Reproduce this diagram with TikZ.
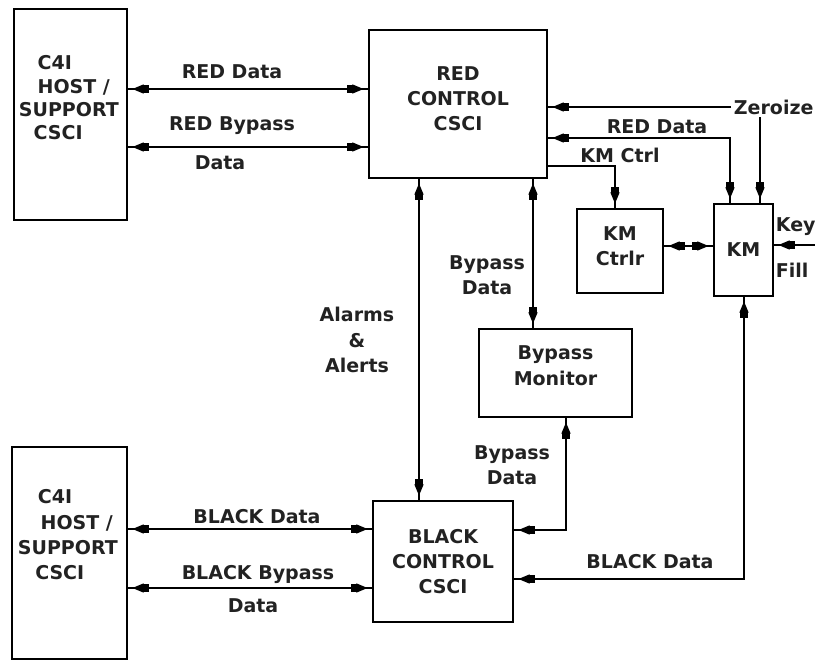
\documentclass[tikz,border=0pt]{standalone}
\usepackage{fontspec}
\setmainfont{DejaVu Sans}
\usetikzlibrary{arrows.meta,decorations.markings}
\definecolor{ink}{HTML}{222222}
\tikzset{
  box/.style={draw=black, line width=1.1pt, rectangle, inner sep=0pt, align=center},
  lbl/.style={inner sep=2pt, align=center},
  wire/.style={line width=1.1pt},
  headtri/.tip={Triangle[length=8.5pt,width=6.8pt]},
  headblk/.tip={Rectangle[length=4.5pt,width=5.8pt]},
  one/.style={wire, postaction={decorate}, decoration={markings,
      mark=at position -3.5pt with {\arrow{headtri}},
      mark=at position -11.8pt with {\arrow{headblk}}}},
  dbl/.style={wire, postaction={decorate}, decoration={markings,
      mark=at position 3.5pt with {\arrowreversed{headtri}},
      mark=at position 11.8pt with {\arrowreversed{headblk}},
      mark=at position -3.5pt with {\arrow{headtri}},
      mark=at position -11.8pt with {\arrow{headblk}}}},
}
\begin{document}
\begin{tikzpicture}[x=0.75pt,y=-0.75pt,font=\fontsize{14.25}{19}\selectfont\bfseries,text=ink]
\useasboundingbox (0,0) rectangle (815,660);
% boxes
\node[box, minimum width=0.75pt*113, minimum height=0.75pt*211] (h1) at (70.5,114.5) {};
\node[box, minimum width=0.75pt*178, minimum height=0.75pt*148, text depth=8pt] (rc) at (458,104) {RED\\CONTROL\\CSCI};
\node[box, minimum width=0.75pt*86, minimum height=0.75pt*84, text depth=7pt] (kmc) at (620,251) {KM\\Ctrlr};
\node[box, minimum width=0.75pt*59, minimum height=0.75pt*92] (km) at (743.5,250) {KM};
\node[box, minimum width=0.75pt*153, minimum height=0.75pt*88, text depth=11pt] (bm) at (555.5,373) {Bypass\\Monitor};
\node[box, minimum width=0.75pt*140, minimum height=0.75pt*121] (bc) at (443,561.5) {BLACK\\CONTROL\\CSCI};
\node[box, minimum width=0.75pt*115, minimum height=0.75pt*212] (h2) at (69.5,553) {};
% host texts
\node[lbl, anchor=west, align=left, font=\fontsize{14.25}{17.5}\selectfont\bfseries] (h1t) at (16,98)
  {\hspace*{14pt}C4I\\\hspace*{14pt}HOST /\\SUPPORT\\\hspace*{11pt}CSCI};
\node[lbl, anchor=west, align=left] (h2t) at (15,535)
  {\hspace*{15pt}C4I\\\hspace*{17pt}HOST /\\SUPPORT\\\hspace*{13pt}CSCI};
% labels
\node[lbl] (l1) at (232,72) {RED Data};
\node[lbl] (l2) at (232,126) {RED Bypass};
\node[lbl] (l3) at (220,163) {Data};
\node[lbl, anchor=west] (zer) at (731,107) {Zeroize};
\node[lbl] (l4) at (657,127) {RED Data};
\node[lbl] (l5) at (620,155) {KM Ctrl};
\node[lbl, anchor=west] (l6) at (773,227) {Key};
\node[lbl, anchor=west] (l7) at (773,270) {Fill};
\node[lbl] (l8) at (487,275) {Bypass\\Data};
\node[lbl] (l9) at (357,340) {Alarms\\\&\\Alerts};
\node[lbl] (l10) at (512,465) {Bypass\\Data};
\node[lbl] (l11) at (257,517) {BLACK Data};
\node[lbl] (l12) at (258,574) {BLACK Bypass};
\node[lbl] (l13) at (253,606) {Data};
\node[lbl] (l14) at (650,562) {BLACK Data};
\coordinate (keyin) at (815,245);
% connectors
\draw[dbl] (h1.east |- 0,89) -- (rc.west |- 0,89);
\draw[dbl] (h1.east |- 0,147) -- (rc.west |- 0,147);
\draw[one] (zer.west) -- (rc.east |- zer.west);
\draw[one] (zer.south -| 760,0) -- (km.north -| 760,0);
\draw[dbl] (rc.east |- 0,138) -| (km.north -| 730,0);
\draw[one] (rc.east |- 0,166) -| (kmc.north -| 615,0);
\draw[dbl] (kmc.east |- 0,246) -- (km.west |- 0,246);
\draw[one] (keyin) -- (km.east |- keyin);
\draw[dbl] (rc.south -| 419,0) -- (bc.north -| 419,0);
\draw[dbl] (rc.south -| 533,0) -- (bm.north -| 533,0);
\draw[dbl] (bm.south -| 566,0) |- (bc.east |- 0,530);
\draw[dbl] (km.south -| 744,0) |- (bc.east |- 0,579);
\draw[dbl] (h2.east |- 0,529) -- (bc.west |- 0,529);
\draw[dbl] (h2.east |- 0,588) -- (bc.west |- 0,588);
\end{tikzpicture}
\end{document}
